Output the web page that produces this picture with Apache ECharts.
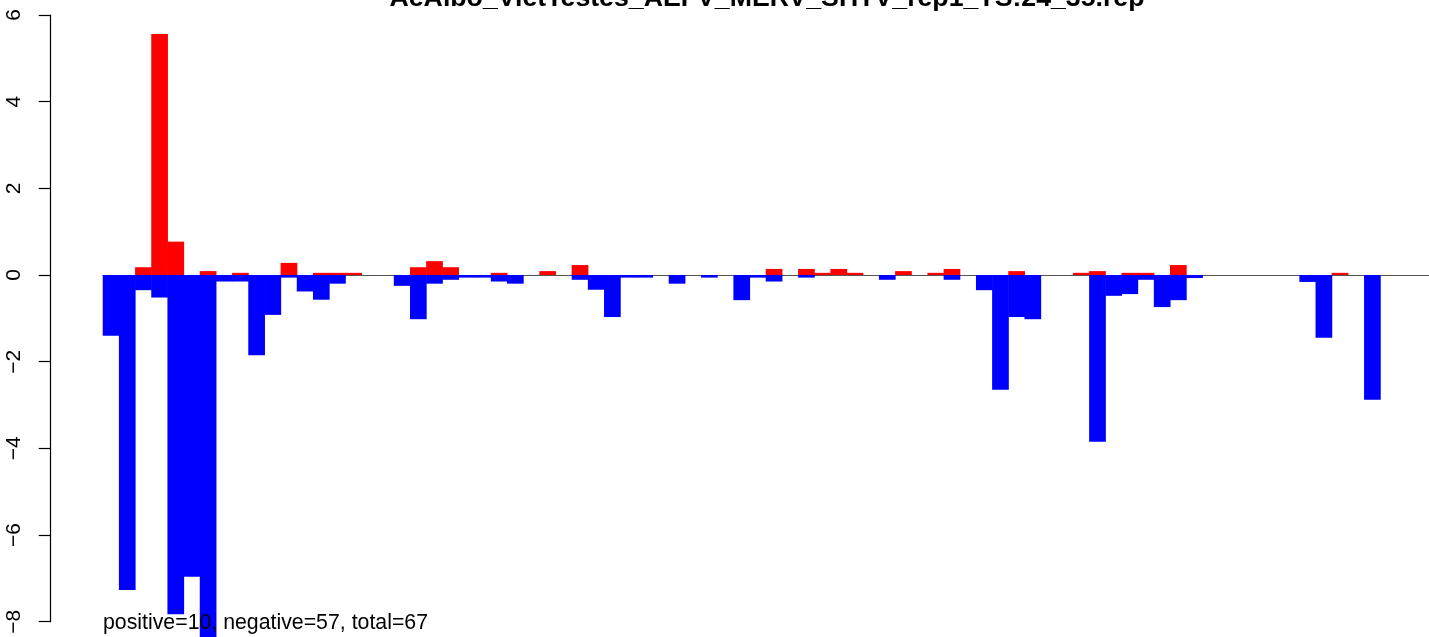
<!DOCTYPE html>
<html>
<head>
<meta charset="utf-8">
<script src="https://cdn.jsdelivr.net/npm/echarts@6/dist/echarts.min.js"></script>
<style>
html,body{margin:0;padding:0;background:#fff;}
#chart{width:1429px;height:637px;}
</style>
</head>
<body>
<div id="chart"></div>
<script>
var titleText = 'AeAlbo_VietTestes_AEFV_MERV_SHTV_rep1_TS:24_35.rep';
var noteText = 'positive=10, negative=57, total=67';

var categories = ['1','2','3','4','5','6','7','8','9','10','11','12','13','14','15','16','17','18','19','20',
  '21','22','23','24','25','26','27','28','29','30','31','32','33','34','35','36','37','38','39','40',
  '41','42','43','44','45','46','47','48','49','50','51','52','53','54','55','56','57','58','59','60',
  '61','62','63','64','65','66','67','68','69','70','71','72','73','74','75','76','77','78','79','80',
  '81','82'];

var positiveValues = [0, 0, 0.18, 5.56, 0.77, 0, 0.09, 0, 0.05, 0,
  0, 0.28, 0, 0.05, 0.05, 0.05, 0, 0, 0, 0.18,
  0.32, 0.18, 0, 0, 0.05, 0, 0, 0.09, 0, 0.23,
  0, 0, 0, 0, 0, 0, 0, 0, 0, 0,
  0, 0.14, 0, 0.14, 0.05, 0.14, 0.05, 0, 0, 0.09,
  0, 0.05, 0.14, 0, 0, 0, 0.09, 0, 0, 0,
  0.05, 0.09, 0, 0.05, 0.05, 0, 0.23, 0, 0, 0,
  0, 0, 0, 0, 0, 0, 0.05, 0, 0, 0,
  0, 0];

var negativeValues = [-1.40, -7.27, -0.35, -0.52, -7.83, -6.96, -8.70, -0.15, -0.15, -1.85,
  -0.92, -0.06, -0.38, -0.57, -0.20, 0, 0, 0, -0.25, -1.02,
  -0.20, -0.11, -0.06, -0.06, -0.15, -0.20, 0, 0, 0, -0.11,
  -0.34, -0.97, -0.06, -0.06, 0, -0.20, 0, -0.06, 0, -0.58,
  -0.06, -0.15, 0, -0.06, 0, 0, 0, 0, -0.11, 0,
  0, 0, -0.11, 0, -0.35, -2.65, -0.97, -1.02, 0, 0,
  0, -3.85, -0.48, -0.44, -0.11, -0.74, -0.58, -0.07, 0, 0,
  0, 0, 0, 0, -0.16, -1.45, 0, 0, -2.88, 0,
  0, 0];

var yTickMin = -8;
var yTickMax = 6;
var yTickStep = 2;

var chart = echarts.init(document.getElementById('chart'), null, {renderer: 'canvas'});
chart.setOption({
  animation: false,
  backgroundColor: '#ffffff',
  grid: {left: 103, top: 15, width: 1328.4, height: 606.7, containLabel: false},
  xAxis: {
    type: 'category',
    data: categories,
    boundaryGap: true,
    axisLine: {show: true, onZero: true, lineStyle: {color: '#555555', width: 1}},
    axisTick: {show: false},
    axisLabel: {show: false},
    splitLine: {show: false}
  },
  yAxis: {
    type: 'value',
    min: yTickMin,
    max: yTickMax,
    interval: yTickStep,
    offset: 52.3,
    axisLine: {show: true, lineStyle: {color: '#000000', width: 1.2}},
    axisTick: {show: true, length: 12, lineStyle: {color: '#000000', width: 1.2}},
    axisLabel: {
      show: true,
      rotate: 90,
      margin: 26,
      color: '#000000',
      fontSize: 21,
      fontFamily: 'Liberation Sans, Arial, sans-serif',
      formatter: function (v) { return String(v).replace('-', '\u2212'); }
    },
    splitLine: {show: false}
  },
  series: [
    {
      type: 'bar',
      data: negativeValues,
      barGap: '-100%',
      barWidth: 16.7,
      clip: false,
      itemStyle: {color: '#0000FF'},
      emphasis: {disabled: true},
      z: 2
    },
    {
      type: 'bar',
      data: positiveValues,
      barGap: '-100%',
      barWidth: 16.7,
      clip: false,
      itemStyle: {color: '#FF0000'},
      emphasis: {disabled: true},
      z: 3
    }
  ],
  graphic: [
    {
      type: 'text',
      x: 767,
      y: -1,
      z: 100,
      style: {
        text: titleText,
        align: 'center',
        verticalAlign: 'middle',
        font: 'bold 26.7px "Liberation Sans", Arial, sans-serif',
        fill: '#000000'
      }
    },
    {
      type: 'text',
      x: 103,
      y: 623.6,
      z: 100,
      style: {
        text: noteText,
        align: 'left',
        verticalAlign: 'middle',
        font: '21.3px "Liberation Sans", Arial, sans-serif',
        fill: '#000000'
      }
    }
  ]
});
</script>
</body>
</html>
